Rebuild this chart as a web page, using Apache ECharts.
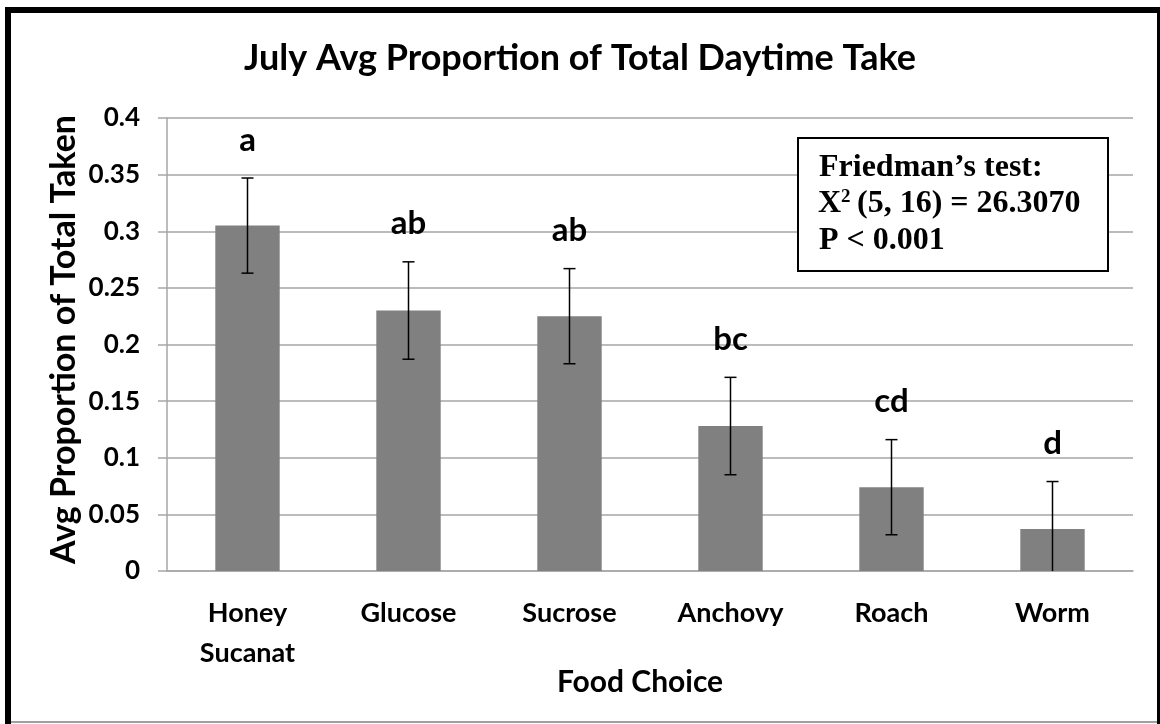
<!DOCTYPE html>
<html>
<head>
<meta charset="utf-8">
<script src="https://cdn.jsdelivr.net/npm/echarts@6/dist/echarts.min.js"></script>
<style>html,body{margin:0;padding:0;background:#fff;}#c{width:1160px;height:724px;}</style>
</head>
<body>
<div id="c"></div>
<script>
var categories = ['Honey\nSucanat', 'Glucose', 'Sucrose', 'Anchovy', 'Roach', 'Worm'];
var means = [0.305, 0.230, 0.225, 0.128, 0.074, 0.037];
var errors = [0.042, 0.043, 0.042, 0.043, 0.042, 0.042];
var letters = ['a', 'ab', 'ab', 'bc', 'cd', 'd'];
var yTicks = [0, 0.05, 0.1, 0.15, 0.2, 0.25, 0.3, 0.35, 0.4];
var statLines = ['Friedman\u2019s test:', 'X', '2', '(5, 16) = 26.3070', 'P < 0.001'];

var FONT = 'Lato';
var SERIF = 'bold 32px "Liberation Serif"';
var chart = echarts.init(document.getElementById('c'));
var errData = means.map(function (m, i) { return [i, m, errors[i]]; });

chart.setOption({
  backgroundColor: '#fff',
  animation: false,
  title: {
    text: 'July Avg Proportion of Total Daytime Take',
    left: 'center',
    top: 35,
    textStyle: { fontFamily: FONT, fontWeight: 'bold', fontSize: 36, color: '#000' }
  },
  grid: { left: 167, right: 27, top: 118, bottom: 153 },
  xAxis: {
    type: 'category',
    data: categories,
    name: 'Food Choice',
    nameLocation: 'middle',
    nameGap: 96,
    nameMoveOverlap: false,
    nameTextStyle: { fontFamily: FONT, fontWeight: 'bold', fontSize: 30, color: '#000', padding: [0, 20, 0, 0] },
    axisLine: { lineStyle: { color: '#a6a6a6', width: 1.5 } },
    axisTick: { length: 10, lineStyle: { color: '#a6a6a6', width: 1.5 } },
    axisLabel: { margin: 22, fontFamily: FONT, fontWeight: 'bold', fontSize: 27, color: '#000', lineHeight: 40, interval: 0 }
  },
  yAxis: {
    type: 'value',
    min: 0, max: 0.4, interval: 0.05,
    name: 'Avg Proportion of Total Taken',
    nameLocation: 'middle',
    nameGap: 86,
    nameMoveOverlap: false,
    nameTextStyle: { fontFamily: FONT, fontWeight: 'bold', fontSize: 34, color: '#000', padding: [0, 0, 0, 10] },
    axisLine: { show: true, lineStyle: { color: '#a6a6a6', width: 1.5 } },
    axisTick: { show: true, length: 9, lineStyle: { color: '#a6a6a6', width: 1.5 } },
    splitLine: { lineStyle: { color: '#a6a6a6', width: 1.5 } },
    axisLabel: {
      margin: 27, fontFamily: FONT, fontWeight: 'bold', fontSize: 26, color: '#000',
      formatter: function (v) {
        for (var i = 0; i < yTicks.length; i++) { if (Math.abs(yTicks[i] - v) < 1e-9) return String(yTicks[i]); }
        return '';
      }
    }
  },
  series: [
    {
      type: 'bar',
      data: means,
      barWidth: '40%',
      itemStyle: { color: '#808080' }
    },
    {
      type: 'custom',
      data: errData,
      encode: { x: 0, y: 1 },
      clip: false,
      z: 10,
      renderItem: function (params, api) {
        var i = api.value(0), m = api.value(1), e = api.value(2);
        var hi = api.coord([i, m + e]);
        var lowVal = Math.max(0, m - e);
        var lo = api.coord([i, lowVal]);
        var cw = 6;
        var st = { stroke: '#000', lineWidth: 1.5 };
        var children = [
          { type: 'line', shape: { x1: hi[0], y1: hi[1], x2: lo[0], y2: lo[1] }, style: st },
          { type: 'line', shape: { x1: hi[0] - cw, y1: hi[1], x2: hi[0] + cw, y2: hi[1] }, style: st }
        ];
        if (m - e > 0) {
          children.push({ type: 'line', shape: { x1: lo[0] - cw, y1: lo[1], x2: lo[0] + cw, y2: lo[1] }, style: st });
        }
        children.push({
          type: 'text',
          style: {
            text: letters[params.dataIndex], x: hi[0], y: hi[1] - 38,
            align: 'center', verticalAlign: 'middle',
            font: 'bold 33px ' + FONT, fill: '#000'
          }
        });
        return { type: 'group', children: children };
      }
    }
  ],
  graphic: [
    { type: 'rect', shape: { x: 5, y: 7, width: 6, height: 717 }, style: { fill: '#000' } },
    { type: 'rect', shape: { x: 5, y: 7, width: 1155, height: 6 }, style: { fill: '#000' } },
    { type: 'rect', shape: { x: 1157, y: 7, width: 3, height: 717 }, style: { fill: '#000' } },
    { type: 'rect', shape: { x: 11, y: 721, width: 1146, height: 2 }, style: { fill: '#a0a0a0' } },
    { type: 'rect', shape: { x: 798, y: 138, width: 310, height: 133 }, style: { fill: '#fff', stroke: '#000', lineWidth: 2 }, z: 100 },
    { type: 'text', z: 101, style: { text: statLines[0], x: 819, y: 168, verticalAlign: 'middle', font: SERIF, fill: '#000' } },
    { type: 'text', z: 101, style: { text: statLines[1], x: 818, y: 204, verticalAlign: 'middle', font: SERIF, fill: '#000' } },
    { type: 'text', z: 101, style: { text: statLines[2], x: 841, y: 197, verticalAlign: 'middle', font: 'bold 19px "Liberation Serif"', fill: '#000' } },
    { type: 'text', z: 101, style: { text: statLines[3], x: 857, y: 204, verticalAlign: 'middle', font: SERIF, fill: '#000' } },
    { type: 'text', z: 101, style: { text: statLines[4], x: 819, y: 241, verticalAlign: 'middle', font: SERIF, fill: '#000' } }
  ]
});
</script>
</body>
</html>
